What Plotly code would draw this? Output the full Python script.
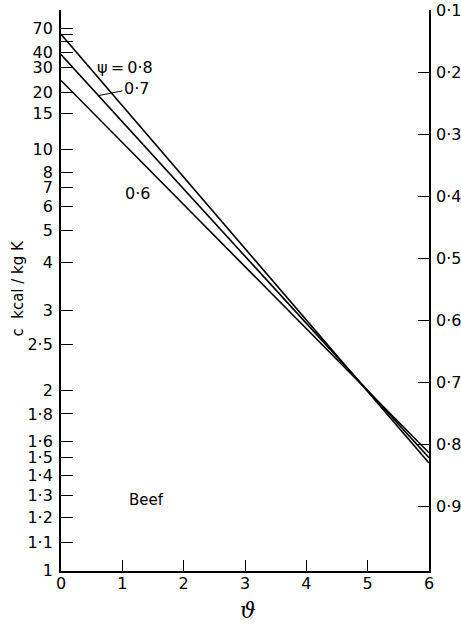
import plotly.graph_objects as go

# Beef: apparent specific heat c against temperature depression theta,
# one straight line per water content psi.
theta_ends = [0, 6]
psi_values = [0.8, 0.7, 0.6]
psi_labels = ["ψ\u2009=\u20090·8", "0·7", "0·6"]
c_at_theta0 = [60.0, 38.0, 24.0]
c_at_theta6 = [1.47, 1.50, 1.53]

# Left scale ticks (c, kcal/kg K)
c_ticks = [70, 60, 50, 40, 30, 20, 15, 10, 8, 7, 6, 5, 4, 3, 2.5, 2,
           1.8, 1.6, 1.5, 1.4, 1.3, 1.2, 1.1, 1]
c_tick_text = ["70", "", "", "40", "30", "20", "15", "10", "8", "7", "6", "5",
               "4", "3", "2·5", "2", "1·8", "1·6", "1·5", "1·4", "1·3", "1·2",
               "1·1", "1"]

# Right scale ticks
r_ticks = [0.1, 0.2, 0.3, 0.4, 0.5, 0.6, 0.7, 0.8, 0.9]
r_tick_text = ["0·1", "0·2", "0·3", "0·4", "0·5", "0·6", "0·7", "0·8", "0·9"]

x_ticks = [0, 1, 2, 3, 4, 5, 6]


def to_u(c):
    """The c scale of the chart is linear in 1/sqrt(c)."""
    return 1.0 / c ** 0.5


FONT = "DejaVu Sans"
TXT = dict(size=16, family=FONT, color="black")
fig = go.Figure()

for c0, c6 in zip(c_at_theta0, c_at_theta6):
    fig.add_trace(go.Scatter(
        x=theta_ends, y=[to_u(c0), to_u(c6)], mode="lines",
        line=dict(color="black", width=1.6), showlegend=False,
        hoverinfo="skip"))

# invisible trace that carries the right-hand scale
fig.add_trace(go.Scatter(x=[0], y=[0.5], yaxis="y2", mode="markers",
                         marker=dict(opacity=0), showlegend=False,
                         hoverinfo="skip"))

annotations = []
# psi = 0.8 label
annotations.append(dict(x=1.05, y=to_u(30), xref="x", yref="y",
                        text=psi_labels[0], showarrow=False, font=TXT))
# psi = 0.7 label with leader to its line
lead_theta = 0.61
u_lead = to_u(c_at_theta0[1]) + (to_u(c_at_theta6[1]) - to_u(c_at_theta0[1])) * lead_theta / 6
annotations.append(dict(x=lead_theta, y=u_lead, xref="x", yref="y",
                        text=psi_labels[1], showarrow=True, arrowhead=0,
                        arrowwidth=1, arrowcolor="black", ax=38, ay=-7.5,
                        font=TXT))
# psi = 0.6 label
annotations.append(dict(x=1.245, y=to_u(6.67), xref="x", yref="y",
                        text=psi_labels[2], showarrow=False, font=TXT))
annotations.append(dict(x=1.39, y=to_u(1.275), xref="x", yref="y",
                        text="Beef", showarrow=False,
                        font=dict(size=15, family=FONT, color="black")))
# axis titles
annotations.append(dict(x=-0.116, y=0.504, xref="paper", yref="paper",
                        xanchor="center", yanchor="middle",
                        text="c  kcal / kg K", textangle=-90, showarrow=False,
                        font=dict(size=15, family=FONT, color="black")))
annotations.append(dict(x=0.508, y=-0.07, xref="paper", yref="paper",
                        xanchor="center", yanchor="middle",
                        text="<i>ϑ</i>", showarrow=False,
                        font=dict(size=22, family="DejaVu Serif", color="black")))

axis_common = dict(showgrid=False, zeroline=False, showline=True,
                   linecolor="black", linewidth=1.8, ticks="inside",
                   tickcolor="black", tickwidth=1.3, automargin=False,
                   tickfont=dict(size=16, family=FONT, color="black"))

fig.update_layout(
    width=461, height=626,
    margin=dict(l=60.5, r=31.5, t=10, b=55.3),
    paper_bgcolor="white", plot_bgcolor="white",
    xaxis=dict(range=[0, 6], tickmode="array", tickvals=x_ticks,
               ticktext=[str(v) for v in x_ticks], ticklen=11,
               ticklabelstandoff=-3, **axis_common),
    yaxis=dict(range=[to_u(1) + 0.0003, 0.0898], tickmode="array",
               tickvals=[to_u(c) for c in c_ticks], ticktext=c_tick_text,
               ticklen=12, ticklabelstandoff=3, **axis_common),
    yaxis2=dict(range=[1.0044, 0.1], overlaying="y", side="right",
                anchor="x", tickmode="array", tickvals=r_ticks,
                ticktext=r_tick_text, ticklen=11, ticklabelstandoff=2,
                **axis_common),
    annotations=annotations,
)

fig.write_html("out.html")
